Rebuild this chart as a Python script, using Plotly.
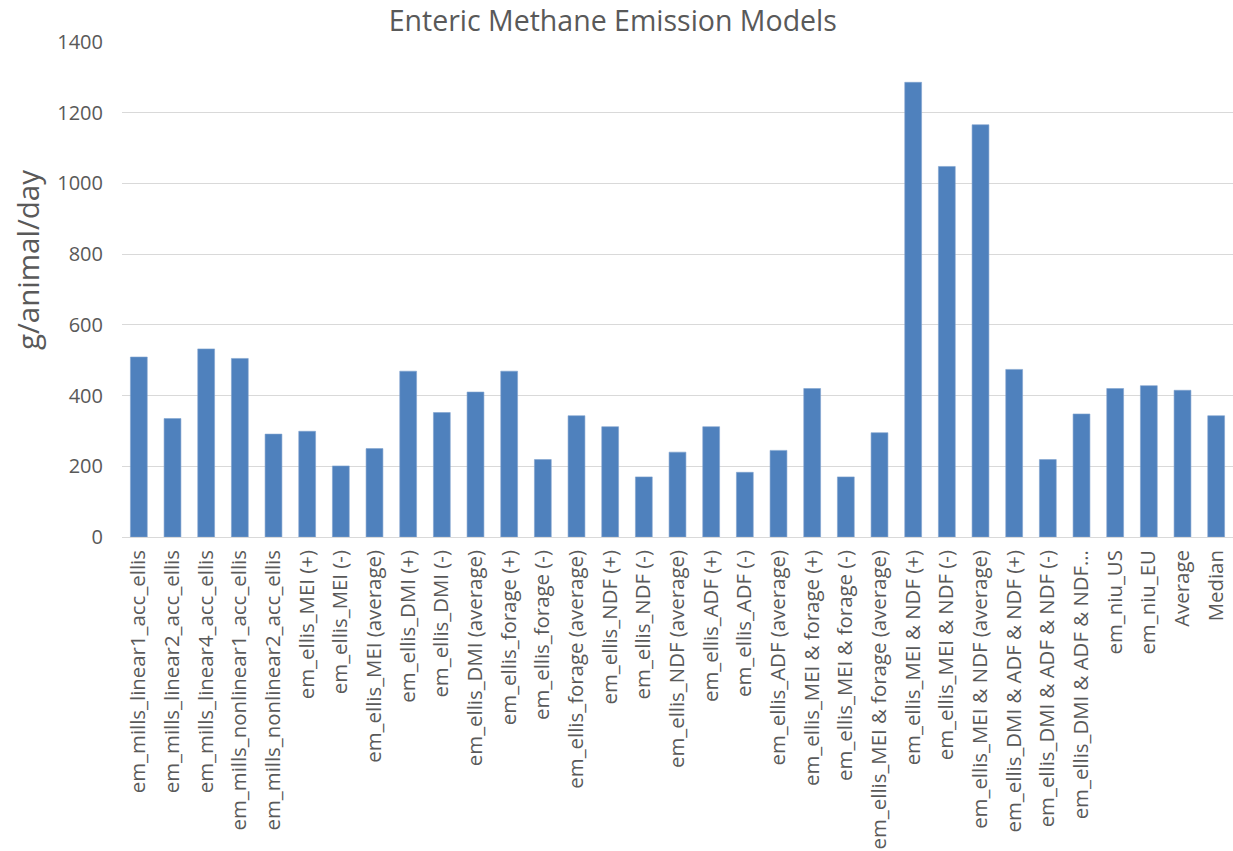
import plotly.graph_objects as go

# Model names shown along the x axis
models = [
    "em_mills_linear1_acc_ellis",
    "em_mills_linear2_acc_ellis",
    "em_mills_linear4_acc_ellis",
    "em_mills_nonlinear1_acc_ellis",
    "em_mills_nonlinear2_acc_ellis",
    "em_ellis_MEI (+)",
    "em_ellis_MEI (-)",
    "em_ellis_MEI (average)",
    "em_ellis_DMI (+)",
    "em_ellis_DMI (-)",
    "em_ellis_DMI (average)",
    "em_ellis_forage (+)",
    "em_ellis_forage (-)",
    "em_ellis_forage (average)",
    "em_ellis_NDF (+)",
    "em_ellis_NDF (-)",
    "em_ellis_NDF (average)",
    "em_ellis_ADF (+)",
    "em_ellis_ADF (-)",
    "em_ellis_ADF (average)",
    "em_ellis_MEI & forage (+)",
    "em_ellis_MEI & forage (-)",
    "em_ellis_MEI & forage (average)",
    "em_ellis_MEI & NDF (+)",
    "em_ellis_MEI & NDF (-)",
    "em_ellis_MEI & NDF (average)",
    "em_ellis_DMI & ADF & NDF (+)",
    "em_ellis_DMI & ADF & NDF (-)",
    "em_ellis_DMI & ADF & NDF…",
    "em_niu_US",
    "em_niu_EU",
    "Average",
    "Median",
]

# Enteric methane emission, g/animal/day
emissions = [
    509, 335, 532, 505, 291,
    299, 201, 250,
    469, 352, 410,
    469, 219, 343,
    312, 170, 240,
    312, 183, 245,
    420, 170, 295,
    1286, 1048, 1166,
    474, 219, 348,
    420, 428,
    415, 343,
]

y_ticks = [0, 200, 400, 600, 800, 1000, 1200, 1400]

TEXT = "#595959"
GRID = "#d9d9d9"
FONT = "Open Sans"

fig = go.Figure(
    go.Bar(
        x=models,
        y=emissions,
        marker=dict(color="#4f81bd", line=dict(color="#7fa2cf", width=0.6)),
    )
)

fig.update_layout(
    width=1233,
    height=851,
    margin=dict(l=122, r=0, t=42, b=314, autoexpand=False),
    paper_bgcolor="white",
    plot_bgcolor="white",
    showlegend=False,
    bargap=0.5,
    font=dict(family=FONT, color=TEXT, size=20),
    title=dict(
        text="Enteric Methane Emission Models",
        x=0.497,
        xanchor="center",
        xref="container",
        y=1 - 21 / 851,
        yanchor="middle",
        yref="container",
        font=dict(family=FONT, size=28.5, color=TEXT),
    ),
    xaxis=dict(
        type="category",
        tickangle=-90,
        tickfont=dict(family=FONT, size=20.4, color=TEXT),
        showgrid=False,
        showline=False,
        ticks="",
        ticklabelstandoff=8,
        automargin=False,
    ),
    yaxis=dict(
        range=[0, 1400],
        tickvals=y_ticks,
        tickfont=dict(family=FONT, size=20, color=TEXT),
        gridcolor=GRID,
        gridwidth=1.3,
        zeroline=True,
        zerolinecolor=GRID,
        zerolinewidth=1.3,
        showline=False,
        ticks="",
        ticklabelstandoff=18,
        automargin=False,
    ),
    annotations=[
        dict(
            text="g/animal/day",
            xref="paper",
            yref="paper",
            x=0,
            y=(537 - 260) / (537 - 42),
            xshift=-95,
            xanchor="center",
            yanchor="middle",
            textangle=-90,
            showarrow=False,
            font=dict(family=FONT, size=29.5, color=TEXT),
        )
    ],
)

fig.write_html("out.html")
